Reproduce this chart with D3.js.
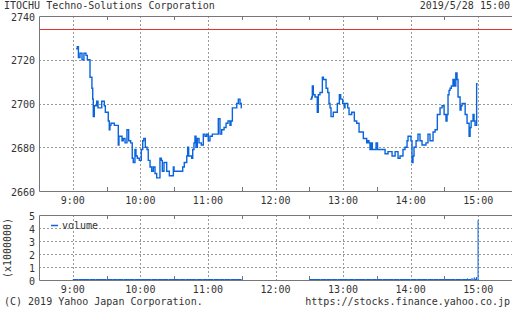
<!DOCTYPE html>
<html><head><meta charset="utf-8">
<script src="https://cdn.jsdelivr.net/npm/d3@7"></script>
<style>
html,body{margin:0;padding:0;background:#fff;}
text{font-family:"DejaVu Sans Mono","Liberation Mono",monospace;font-size:10px;fill:#333;}
</style></head>
<body><svg id="c" width="512" height="310"></svg>
<script>
// ---- data ----
const title = "ITOCHU Techno-Solutions Corporation";
const stamp = "2019/5/28 15:00";
const prevClose = 2734;
const priceTicks = [2660, 2680, 2700, 2720, 2740];
const volTicks = [0, 1, 2, 3, 4, 5];
const hourLabels = ["9:00","10:00","11:00","12:00","13:00","14:00","15:00"];
// [minutes after 9:00, price]
const morning = [
 [3,2725],[4,2726],[5,2721],[6.4,2723],[8.2,2720],[9.9,2723],[11.7,2722],[12.9,2720],
 [15.3,2712],[17,2707],[17.7,2702],[18.2,2694],[19.1,2699],[21.2,2701],[22.4,2698],
 [25.7,2701],[28,2699],[28.9,2696],[31.5,2692],[32.4,2688],[33,2690],[33.9,2691],
 [36.9,2690],[40.4,2681],[41,2685],[43.7,2683],[44.8,2684],[46.4,2682],[48.1,2688],
 [49.6,2683],[51.4,2682],[52.8,2675],[53.7,2673],[55.2,2679],[56.1,2676],[57.3,2675],
 [59.1,2674],[60.8,2679],[62.1,2683],[63,2684],[64.4,2680],[65.9,2679],[67,2674],
 [68.6,2671],[70.1,2669],[71.5,2671],[73,2668],[74.5,2666],[77.4,2675],[78.6,2674],
 [79.5,2669],[81,2673],[83.4,2669],[85.7,2667],[89.3,2671],[89.9,2669],[97.6,2671],
 [99,2673],[101.2,2676],[102,2680],[102.9,2676],[105.6,2675],[106.5,2679],[107.6,2682],
 [108.5,2685],[109.4,2680],[110.6,2684],[112.1,2682],[114.1,2681],[115.9,2686],
 [117.4,2685],[118.9,2686],[120.3,2683],[121.8,2685],[123.9,2686],[129.2,2693],
 [130.7,2686],[132.2,2688],[134.3,2689],[136.1,2691],[137.8,2692],[139.6,2690],
 [140.5,2692],[141.7,2698],[144.1,2698],[145.6,2700],[147,2702],[148.5,2700],[149.6,2698]
];
const afternoon = [
 [210.7,2702],[212.2,2703],[212.7,2708],[213.6,2704],[215.1,2703],[217.1,2696],[218,2704],
 [219.5,2705],[221.6,2712],[222.5,2711],[224.9,2707],[226.4,2705],[227.5,2700],[228.4,2698],
 [229.3,2694],[231.3,2696],[234.9,2700],[236.7,2704],[237.9,2702],[239.7,2700],[241.1,2698],
 [241.7,2700],[244.1,2698],[245.3,2695],[247.7,2696],[250,2692],[252.1,2691],[254.2,2687],
 [258,2684],[261,2682],[262.2,2683],[263,2682],[263.9,2679],[265.1,2682],[266,2679],
 [269.3,2682],[270.6,2679],[277.3,2677],[279.9,2678],[283.5,2676],[286.2,2678],[288.8,2675],
 [290.6,2676],[293.2,2679],[295,2680],[296.8,2683],[297.7,2685],[300.3,2683],[301.2,2673],
 [302.1,2676],[303,2680],[304.8,2683],[306.5,2686],[308.3,2683],[310.1,2681],[313.6,2682],
 [315.4,2686],[317.2,2683],[319.9,2687],[321.7,2688],[323.7,2695],[326.1,2698],[327.9,2699],
 [329.7,2695],[331.4,2692],[332.3,2695],[333.2,2704],[334.1,2706],[335,2707],[336.1,2708],
 [337.6,2711],[338.8,2708],[340.1,2714],[341.2,2711],[342.1,2703],[343.9,2697],[344.8,2699],
 [345.7,2700],[348.4,2695],[350.1,2691],[351.9,2685],[352.8,2689],[353.7,2692],[355.4,2695],
 [356.3,2692],[357.2,2690],[358.6,2709]
];
const morningEnd = 150, afternoonEnd = 359.5;
// volume (x1,000,000): [start minute, end minute, volume]
const volume = [
 [0,5,0.06],[5,10,0.04],[10,15,0.03],[15,20,0.04],[20,25,0.03],[25,30,0.02],[30,35,0.03],
 [35,40,0.02],[40,45,0.03],[45,50,0.02],[50,55,0.03],[55,60,0.02],[60,65,0.02],[65,70,0.02],
 [70,75,0.03],[75,80,0.02],[80,85,0.02],[85,90,0.01],[90,95,0.02],[95,100,0.01],[100,105,0.02],
 [105,110,0.02],[110,115,0.02],[115,120,0.01],[120,125,0.02],[125,130,0.02],[130,135,0.01],
 [135,140,0.02],[140,145,0.02],[145,150,0.02],
 [210,215,0.04],[215,220,0.03],[220,225,0.03],[225,230,0.02],[230,235,0.02],[235,240,0.02],
 [240,245,0.02],[245,250,0.02],[250,255,0.02],[255,260,0.01],[260,265,0.02],[265,270,0.02],
 [270,275,0.01],[275,280,0.02],[280,285,0.01],[285,290,0.02],[290,295,0.02],[295,300,0.02],
 [300,305,0.02],[305,310,0.02],[310,315,0.02],[315,320,0.02],[320,325,0.02],[325,330,0.03],
 [330,335,0.03],[335,340,0.03],[340,345,0.03],[345,350,0.03],[350,351,0.12],[351,354,0.03],
 [354,355,0.15],[355,356,0.05],[356,357,0.2],[357,358,0.1],[358,359,0.22],[359.4,360,4.6]
];

// ---- layout ----
const svg = d3.select("#c");
const L = 39, R = 512, pT = 16, pB = 191, vT = 215, vB = 280;
const t0 = new Date(2019,4,28,8,30), t1 = new Date(2019,4,28,15,30);
const base = new Date(2019,4,28,9,0);
const tm = m => new Date(base.getTime() + m*60000);
const x = d3.scaleTime().domain([t0,t1]).range([L,R]);
const y = d3.scaleLinear().domain([2660,2740]).range([pB,pT]);
const yv = d3.scaleLinear().domain([0,5]).range([vB,vT]);
const hours = d3.range(9,16).map(h => new Date(2019,4,28,h,0));
const halves = d3.range(8,16).map(h => new Date(2019,4,28,h,30)).filter(d => d>t0 && d<t1);
const fmt = (d,i) => hourLabels[i];

function panel(top, bottom, yscale, yticks, gridVals){
  const g = svg.append("g");
  g.selectAll(".hg").data(gridVals).join("line")
    .attr("x1",L).attr("x2",R).attr("y1",d=>Math.round(yscale(d))+0.5).attr("y2",d=>Math.round(yscale(d))+0.5)
    .attr("stroke","#999").attr("stroke-dasharray","2,2");
  g.selectAll(".vg").data(hours).join("line")
    .attr("x1",d=>Math.round(x(d))+0.5).attr("x2",d=>Math.round(x(d))+0.5).attr("y1",top).attr("y2",bottom)
    .attr("stroke","#999").attr("stroke-dasharray","2,2");
  g.selectAll(".tb").data(halves).join("line")
    .attr("x1",d=>Math.round(x(d))+0.5).attr("x2",d=>Math.round(x(d))+0.5).attr("y1",bottom-4).attr("y2",bottom)
    .attr("stroke","#777");
  g.selectAll(".tt").data(halves).join("line")
    .attr("x1",d=>Math.round(x(d))+0.5).attr("x2",d=>Math.round(x(d))+0.5).attr("y1",top).attr("y2",top+4)
    .attr("stroke","#777");
  g.append("path").attr("d",`M${R},${top+0.5}H${L+0.5}V${bottom+0.5}H${R}`)
    .attr("fill","none").attr("stroke","#777");
  g.selectAll(".yl").data(yticks).join("text")
    .attr("x",35).attr("y",d=>yscale(d)+1).attr("text-anchor","end").attr("dominant-baseline","central")
    .text(d=>d);
  g.selectAll(".xl").data(hours).join("text")
    .attr("x",d=>x(d)).attr("y",bottom+9).attr("text-anchor","middle").attr("dominant-baseline","central")
    .text(fmt);
}
panel(pT,pB,y,priceTicks,[2680,2700,2720]);
panel(vT,vB,yv,volTicks,[1,2,3,4]);

// previous close
svg.append("line").attr("x1",L+1).attr("x2",R).attr("y1",Math.round(y(prevClose))+0.5).attr("y2",Math.round(y(prevClose))+0.5)
  .attr("stroke","#dd3333").attr("stroke-width",1);

// price line
const line = d3.line().x(d=>x(tm(d[0]))).y(d=>y(d[1])).curve(d3.curveStepAfter);
const sess = [morning.concat([[morningEnd, morning[morning.length-1][1]]]),
              afternoon.concat([[afternoonEnd, afternoon[afternoon.length-1][1]]])];
svg.selectAll(".pl").data(sess).join("path")
  .attr("d",line).attr("fill","none").attr("stroke","#0a64dc").attr("stroke-width",1.4);

// volume bars
svg.selectAll(".vb").data(volume).join("rect")
  .attr("x",d=>x(tm(d[0])))
  .attr("width",d=>Math.max(1, x(tm(d[1]))-x(tm(d[0]))))
  .attr("y",d=>Math.min(yv(d[2]), vB-1))
  .attr("height",d=>Math.max(1, vB-yv(d[2])))
  .attr("fill","#0a64dc");

// legend
svg.append("line").attr("x1",51).attr("x2",58).attr("y1",225.5).attr("y2",225.5).attr("stroke","#0a64dc").attr("stroke-width",1.5);
svg.append("text").attr("x",62).attr("y",225).attr("dominant-baseline","central").text("volume");

// y unit
svg.append("text").attr("transform","translate(7,248) rotate(-90)").attr("text-anchor","middle")
  .attr("dominant-baseline","central").text("(x1000000)");

// titles
svg.append("text").attr("x",4).attr("y",5).attr("dominant-baseline","central").text(title);
svg.append("text").attr("x",510).attr("y",5).attr("text-anchor","end").attr("dominant-baseline","central").text(stamp);
svg.append("text").attr("x",4).attr("y",301).attr("dominant-baseline","central").text("(C) 2019 Yahoo Japan Corporation.");
svg.append("text").attr("x",510).attr("y",301).attr("text-anchor","end").attr("dominant-baseline","central").text("https://stocks.finance.yahoo.co.jp");
</script></body></html>
